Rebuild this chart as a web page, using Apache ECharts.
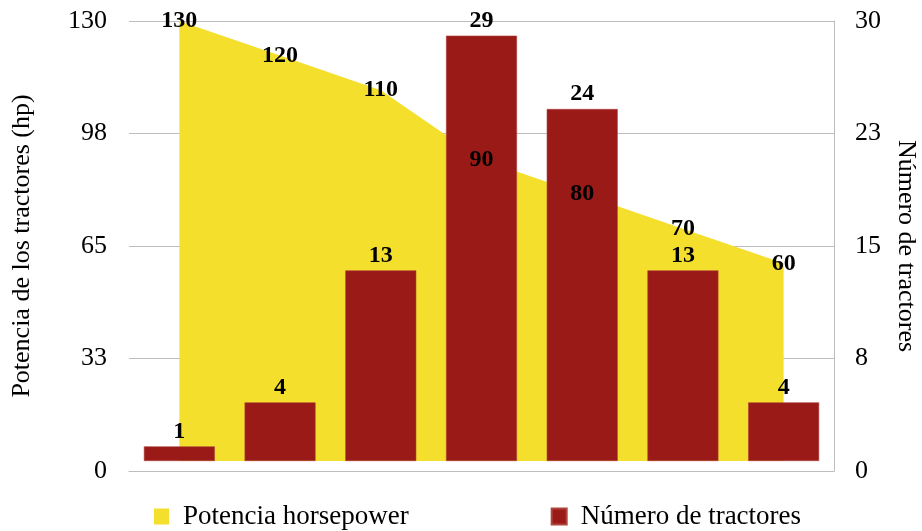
<!DOCTYPE html>
<html>
<head>
<meta charset="utf-8">
<script src="https://cdn.jsdelivr.net/npm/echarts@6/dist/echarts.min.js"></script>
<style>
html,body{margin:0;padding:0;background:#fff;}
#c{width:922px;height:531px;}
</style>
</head>
<body>
<div id="c"></div>
<script>
const categories = ['T1','T2','T3','T4','T5','T6','T7'];
const potencia = [130, 120, 110, 90, 80, 70, 60];
const tractores = [1, 4, 13, 29, 24, 13, 4];
const leftTicks = [0, 33, 65, 98, 130];
const rightTicks = [0, 8, 15, 23, 30];

const serif = '"Liberation Serif", "Times New Roman", serif';
const gridColor = '#bdbdbd';
const yellow = '#F4E02C';
const red = '#991A17';

const chart = echarts.init(document.getElementById('c'));
chart.setOption({
  animation: false,
  backgroundColor: '#fff',
  grid: { left: 129, right: 88, top: 21, bottom: 60, outerBoundsMode: 'none', containLabel: false },
  legend: {
    left: 149, top: 498,
    itemWidth: 15, itemHeight: 16, itemGap: 142,
    textStyle: { fontFamily: serif, fontSize: 27, color: '#000', padding: [0,0,0,9] },
    data: [
      { name: 'Potencia horsepower', icon: 'rect', itemStyle: { color: yellow } },
      { name: 'Número de tractores', icon: 'rect', itemStyle: { color: red } }
    ]
  },
  xAxis: {
    type: 'category', data: categories, boundaryGap: true,
    axisLine: { show: true, lineStyle: { color: gridColor, width: 1 } },
    axisTick: { show: false }, axisLabel: { show: false }
  },
  yAxis: [
    {
      type: 'value', min: 0, max: 130, interval: 32.5, position: 'left',
      name: 'Potencia de los tractores (hp)', nameLocation: 'middle', nameGap: 94,
      nameTextStyle: { fontFamily: serif, fontSize: 26, color: '#000' },
      axisLine: { show: false }, axisTick: { show: false },
      axisLabel: { fontFamily: serif, fontSize: 26, color: '#000', margin: 22,
        formatter: v => String(leftTicks[Math.round(v / 32.5)]) },
      splitLine: { show: true, lineStyle: { color: gridColor, width: 1 } }
    },
    {
      type: 'value', min: 0, max: 30, interval: 7.5, position: 'right',
      name: 'Número de tractores', nameLocation: 'middle', nameGap: 59, nameRotate: -90,
      nameTextStyle: { fontFamily: serif, fontSize: 26, color: '#000' },
      axisLine: { show: true, lineStyle: { color: gridColor, width: 1 } }, axisTick: { show: false },
      axisLabel: { fontFamily: serif, fontSize: 26, color: '#000', margin: 21,
        formatter: v => String(rightTicks[Math.round(v / 7.5)]) },
      splitLine: { show: false }
    },
    {
      type: 'value', min: -0.68, max: 30, position: 'right', show: false,
      splitLine: { show: false }
    }
  ],
  series: [
    {
      name: 'Potencia horsepower', type: 'line', yAxisIndex: 0, data: potencia,
      symbol: 'none',
      lineStyle: { width: 0 },
      areaStyle: { color: yellow, opacity: 1, origin: 2.9 },
      z: 1
    },
    {
      name: 'Número de tractores', type: 'bar', yAxisIndex: 2, data: tractores,
      barWidth: 71,
      itemStyle: { color: red, borderColor: '#b0453f', borderWidth: 0.6 },
      label: { show: true, position: 'top', distance: 3, fontFamily: serif, fontSize: 24, fontWeight: 'bold', color: '#000' },
      z: 2
    },
    {
      name: 'Potencia labels', type: 'line', yAxisIndex: 0, data: potencia,
      symbol: 'circle', symbolSize: 1, showSymbol: true,
      itemStyle: { color: 'rgba(0,0,0,0)' },
      lineStyle: { width: 0, opacity: 0 },
      label: { show: true, position: 'inside', fontFamily: serif, fontSize: 24, fontWeight: 'bold', color: '#000' },
      z: 5
    }
  ]
});
</script>
</body>
</html>
